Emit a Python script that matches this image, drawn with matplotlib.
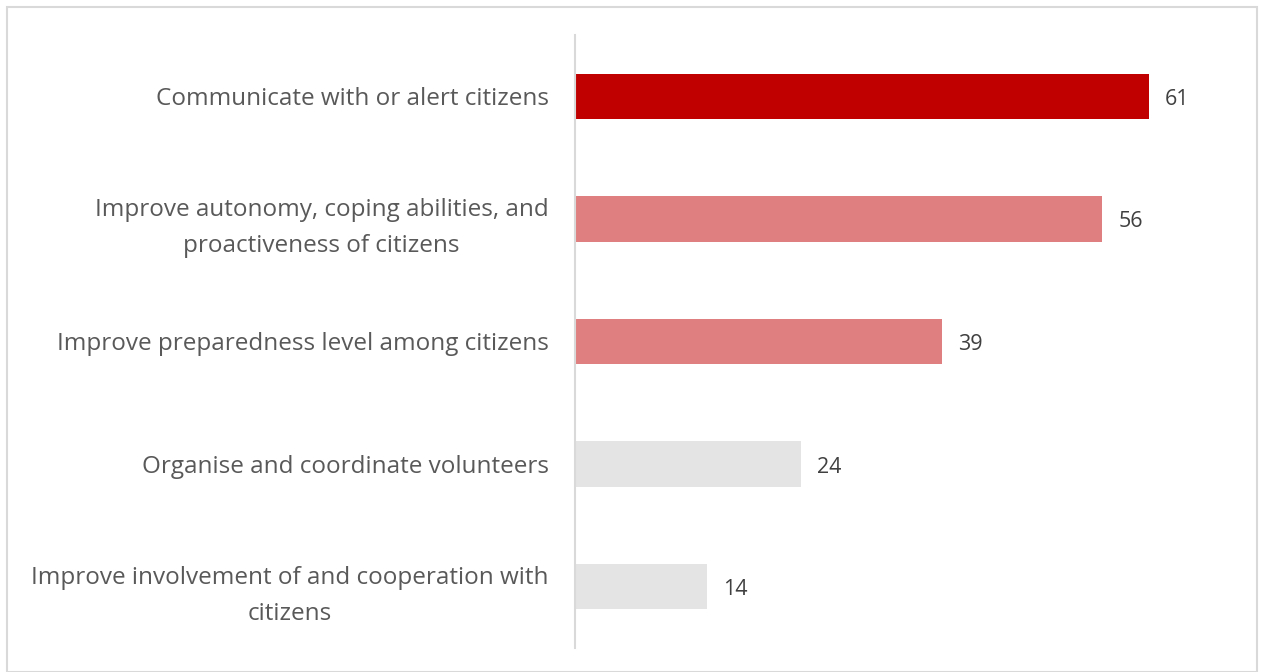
import matplotlib
matplotlib.use("Agg")
import matplotlib.pyplot as plt
from matplotlib.patches import Rectangle

categories = [
    "Communicate with or alert citizens",
    "Improve autonomy, coping abilities, and\nproactiveness of citizens",
    "Improve preparedness level among citizens",
    "Organise and coordinate volunteers",
    "Improve involvement of and cooperation with\ncitizens",
]
values = [61, 56, 39, 24, 14]
colors = ["#C00000", "#DF7F7F", "#DF7F7F", "#E4E4E4", "#E4E4E4"]

plt.rcParams['font.family'] = ['Open Sans', 'DejaVu Sans']
W, H = 1261, 672
fig = plt.figure(figsize=(W / 100, H / 100), dpi=100)
ax = fig.add_axes([575 / W, 1 - 648 / H, (1234 - 575) / W, (648 - 35) / H])

ypos = list(range(len(categories)))
ax.barh(ypos, values, height=0.37, color=colors)
ax.set_ylim(len(categories) - 0.5, -0.5)
ax.set_xlim(0, 70)
ax.set_yticks(ypos)
ax.set_yticklabels(categories, fontsize=17.5, color="#595959", ha="right",
                   multialignment="center", linespacing=1.68)
ax.tick_params(axis="y", length=0, pad=19)
ax.set_xticks([])
for s in ["top", "right", "bottom"]:
    ax.spines[s].set_visible(False)
ax.spines["left"].set_color("#D9D9D9")
ax.spines["left"].set_linewidth(1.5)

for y, v in zip(ypos, values):
    ax.annotate(str(v), (v, y), xytext=(11.5, -6.1), textcoords="offset points",
                va="baseline", ha="left", fontsize=15.5, color="#404040")

fig.patches.append(Rectangle((7 / W, 0), (1257 - 7) / W, 1 - 7 / H,
                             transform=fig.transFigure, fill=False,
                             edgecolor="#D9D9D9", linewidth=1.5))
fig.savefig("out.png", dpi=100)
